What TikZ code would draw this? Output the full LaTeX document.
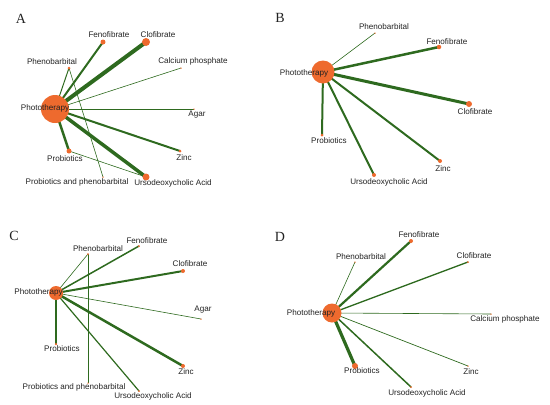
\documentclass[tikz,border=0pt]{standalone}
\usepackage{fontspec}
\setmainfont{Liberation Sans}
\newfontfamily\letterfont{Liberation Serif}
\usetikzlibrary{backgrounds}
\definecolor{nodeor}{HTML}{EE6A2E}
\definecolor{edgegr}{HTML}{2E6A1F}
\definecolor{txt}{HTML}{222222}
\tikzset{
  dot/.style={circle,fill=nodeor,inner sep=0pt,minimum size=#1},
  lab/.style={font=\fontsize{8.1}{9}\selectfont,text=txt,inner sep=0pt},
  panel/.style={font=\letterfont\fontsize{14}{16}\selectfont,text=txt,inner sep=0pt},
  edge/.style={draw=edgegr,line width=#1},
}
\begin{document}
\begin{tikzpicture}[x=1pt,y=-1pt]
\useasboundingbox (0,0) rectangle (550,405);
% ================= Panel A =================
\node[panel] (Alet) at (21,19) {A};
\node[dot=28pt] (Aph) at (55,109) {};
\node[dot=5pt] (Afe) at (103,42) {};
\node[dot=8pt] (Acl) at (146,42) {};
\node[dot=3pt] (Apb) at (69,68) {};
\node[dot=1.5pt] (Aca) at (181,68) {};
\node[dot=1.5pt] (Aag) at (194,109) {};
\node[dot=3pt] (Azn) at (180,151) {};
\node[dot=5pt] (Apr) at (69,151) {};
\node[dot=7pt] (Aur) at (146,177) {};
\node[dot=1.5pt] (App) at (103,177) {};
\begin{scope}[on background layer]
\draw[edge=2pt] (Aph.center) -- (Afe.center);
\draw[edge=4pt] (Aph.center) -- (Acl.center);
\draw[edge=1pt] (Aph.center) -- (Apb.center);
\draw[edge=0.6pt] (Aph.center) -- (Aca.center);
\draw[edge=0.6pt] (Aph.center) -- (Aag.center);
\draw[edge=2pt] (Aph.center) -- (Azn.center);
\draw[edge=2.5pt] (Aph.center) -- (Apr.center);
\draw[edge=3.5pt] (Aph.center) -- (Aur.center);
\draw[edge=0.6pt] (Apb.center) -- (App.center);
\draw[edge=0.6pt] (Apr.center) -- (Aur.center);
\end{scope}
\node[lab] (Aphl) at (45,108) {Phototherapy};
\node[lab] (Afel) at (109,35) {Fenofibrate};
\node[lab] (Acll) at (158,35) {Clofibrate};
\node[lab] (Apbl) at (52,62) {Phenobarbital};
\node[lab] (Acal) at (193,61) {Calcium phosphate};
\node[lab] (Aagl) at (197,115) {Agar};
\node[lab] (Aznl) at (184,158) {Zinc};
\node[lab] (Aprl) at (65,159) {Probiotics};
\node[lab] (Aurl) at (173,183) {Ursodeoxycholic Acid};
\node[lab] (Appl) at (77,182) {Probiotics and phenobarbital};
% ================= Panel B =================
\node[panel] (Blet) at (280,18) {B};
\node[dot=23pt] (Bph) at (323,72) {};
\node[dot=1.5pt] (Bpb) at (375,33) {};
\node[dot=4.5pt] (Bfe) at (439,47) {};
\node[dot=6pt] (Bcl) at (469,104) {};
\node[dot=3pt] (Bpr) at (322,135) {};
\node[dot=4pt] (Bur) at (374,175) {};
\node[dot=4pt] (Bzn) at (440,161) {};
\begin{scope}[on background layer]
\draw[edge=0.6pt] (Bph.center) -- (Bpb.center);
\draw[edge=2.5pt] (Bph.center) -- (Bfe.center);
\draw[edge=3pt] (Bph.center) -- (Bcl.center);
\draw[edge=2pt] (Bph.center) -- (Bpr.center);
\draw[edge=2pt] (Bph.center) -- (Bur.center);
\draw[edge=2pt] (Bph.center) -- (Bzn.center);
\end{scope}
\node[lab] (Bphl) at (304,73) {Phototherapy};
\node[lab] (Bpbl) at (384,27) {Phenobarbital};
\node[lab] (Bfel) at (447,42) {Fenofibrate};
\node[lab] (Bcll) at (475,112) {Clofibrate};
\node[lab] (Bprl) at (329,141) {Probiotics};
\node[lab] (Burl) at (389,182) {Ursodeoxycholic Acid};
\node[lab] (Bznl) at (443,169) {Zinc};
% ================= Panel C =================
\node[panel] (Clet) at (14,236) {C};
\node[dot=14pt] (Cph) at (56,293) {};
\node[dot=2pt] (Cpb) at (88,254) {};
\node[dot=2pt] (Cfe) at (139,246) {};
\node[dot=4pt] (Ccl) at (183,271) {};
\node[dot=1.5pt] (Cag) at (201,319) {};
\node[dot=4pt] (Czn) at (183,366) {};
\node[dot=2.5pt] (Cpr) at (56,344) {};
\node[dot=1.5pt] (Cpp) at (88,383) {};
\node[dot=2pt] (Cur) at (139,391) {};
\begin{scope}[on background layer]
\draw[edge=0.6pt] (Cph.center) -- (Cpb.center);
\draw[edge=1.5pt] (Cph.center) -- (Cfe.center);
\draw[edge=2pt] (Cph.center) -- (Ccl.center);
\draw[edge=0.6pt] (Cph.center) -- (Cag.center);
\draw[edge=2.5pt] (Cph.center) -- (Czn.center);
\draw[edge=1.2pt] (Cph.center) -- (Cur.center);
\draw[edge=1.5pt] (Cph.center) -- (Cpr.center);
\draw[edge=0.6pt] (Cpb.center) -- (Cpp.center);
\end{scope}
\node[lab] (Cphl) at (38.5,292) {Phototherapy};
\node[lab] (Cpbl) at (98,249) {Phenobarbital};
\node[lab] (Cfel) at (147,241) {Fenofibrate};
\node[lab] (Ccll) at (190,264) {Clofibrate};
\node[lab] (Cagl) at (203,310) {Agar};
\node[lab] (Cznl) at (186,372) {Zinc};
\node[lab] (Cprl) at (62,349) {Probiotics};
\node[lab] (Cppl) at (74,387) {Probiotics and phenobarbital};
\node[lab] (Curl) at (153,396) {Ursodeoxycholic Acid};
% ================= Panel D =================
\node[panel] (Dlet) at (280,237) {D};
\node[dot=19pt] (Dph) at (332,313) {};
\node[dot=1.5pt] (Dpb) at (355,262) {};
\node[dot=4pt] (Dfe) at (411,241) {};
\node[dot=2pt] (Dcl) at (468,262) {};
\node[dot=1.5pt] (Dca) at (491,314) {};
\node[dot=1.5pt] (Dzn) at (468,366) {};
\node[dot=6pt] (Dpr) at (355,366) {};
\node[dot=2pt] (Dur) at (411,387) {};
\begin{scope}[on background layer]
\draw[edge=0.6pt] (Dph.center) -- (Dpb.center);
\draw[edge=2.2pt] (Dph.center) -- (Dfe.center);
\draw[edge=1.3pt] (Dph.center) -- (Dcl.center);
\draw[edge=0.6pt] (Dph.center) -- (Dca.center);
\draw[edge=0.7pt] (Dph.center) -- (Dzn.center);
\draw[edge=1.5pt] (Dph.center) -- (Dur.center);
\draw[edge=3.2pt] (Dph.center) -- (Dpr.center);
\end{scope}
\node[lab] (Dphl) at (311,313) {Phototherapy};
\node[lab] (Dpbl) at (361,257) {Phenobarbital};
\node[lab] (Dfel) at (419,235) {Fenofibrate};
\node[lab] (Dcll) at (474,256) {Clofibrate};
\node[lab] (Dcal) at (505,319) {Calcium phosphate};
\node[lab] (Dznl) at (471,372) {Zinc};
\node[lab] (Dprl) at (362,371) {Probiotics};
\node[lab] (Durl) at (427,393) {Ursodeoxycholic Acid};
\end{tikzpicture}
\end{document}
